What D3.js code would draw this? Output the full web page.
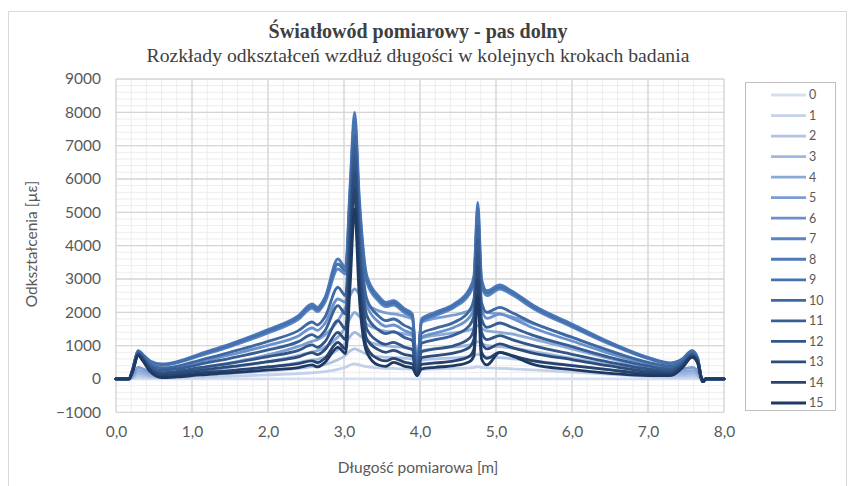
<!DOCTYPE html>
<html><head><meta charset="utf-8">
<script src="https://cdn.jsdelivr.net/npm/d3@7"></script>
<style>body{margin:0;background:#fff}svg{display:block}</style>
</head><body>
<svg id="c" width="848" height="486"></svg>
<script>
// ---------- DATA ----------
const lengths = [0,0.17,0.22,0.29,0.36,0.45,0.6,0.8,1.1,1.5, 2.0,2.4,2.58,2.65,2.75,2.92,3.02,3.08,3.14,3.20, 3.3,3.45,3.55,3.65,3.8,3.9,3.96,4.02,4.2,4.45, 4.65,4.71,4.76,4.81,4.88,5.05,5.2,5.5,6.0,6.5, 7.0,7.3,7.45,7.58,7.65,7.72,7.76,8.0];

const step0  = [0,0,0,0,0,0,0,0,0,0, 0,0,0,0,0,0,0,0,0,0, 0,0,0,0,0,0,0,0,0,0, 0,0,0,0,0,0,0,0,0,0, 0,0,0,0,0,0,0,0];
const step1  = [0,0,20,60,50,35,25,35,50,80, 120,160,185,195,220,290,350,420,450,420, 370,330,320,315,305,290,100,280,300,315, 335,345,370,345,330,320,305,270,205,140, 75,50,50,60,45,0,0,0];
const step2  = [0,0,40,120,100,70,50,70,105,160, 240,320,370,390,440,580,710,840,900,850, 740,670,650,640,620,590,150,560,600,630, 670,700,740,700,660,640,610,540,410,280, 150,100,100,120,90,-10,0,0];
const step3  = [0,0,60,180,150,100,75,100,160,240, 360,490,570,590,660,880,1080,1280,1400,1320, 1150,1030,990,970,940,900,200,850,910,960, 1020,1060,1120,1060,1000,970,930,820,620,420, 230,150,150,180,130,-20,0,0];
const step4  = [0,0,90,260,220,150,110,150,230,350, 520,700,810,850,950,1260,1550,1820,2000,1880, 1650,1480,1430,1400,1350,1300,250,1220,1310,1380, 1470,1520,1600,1520,1440,1400,1350,1190,900,610, 330,220,220,260,190,-30,0,0];
const step5  = [0,0,120,350,300,200,150,200,320,480, 720,980,1130,1180,1320,1750,2150,2500,2700,2550, 2250,2050,1980,1950,1880,1800,300,1700,1820,1920, 2050,2120,2250,2120,2000,1950,1870,1650,1250,850, 450,300,300,350,250,-40,0,0];
const step6  = [0,0,270,790,630,410,300,350,510,720, 1010,1290,1530,1460,1670,2400,2300,4300,6000,4000, 2200,1720,1580,1620,1450,1340,200,1250,1380,1550, 1850,2100,3800,2100,1820,1950,1830,1520,1140,760, 450,340,490,760,590,-80,0,0];
const step7  = [0,0,290,830,690,500,410,480,690,970, 1380,1790,2120,2020,2300,3300,3150,5400,7600,5100, 2900,2350,2170,2220,1980,1830,220,1700,1900,2150, 2550,2900,4900,2800,2500,2700,2540,2100,1560,1040, 610,460,580,830,630,-80,0,0];
const step8  = [0,0,300,850,720,540,450,520,750,1050, 1480,1900,2250,2150,2450,3600,3350,5800,8000,5500, 3100,2500,2300,2350,2100,1950,250,1800,2000,2250, 2700,3100,5300,3000,2650,2820,2650,2200,1650,1100, 650,480,600,850,650,-80,0,0];
const step9  = [0,0,290,840,700,520,430,500,720,1010, 1430,1850,2180,2080,2380,3450,3250,5600,7800,5300, 3000,2420,2230,2280,2040,1880,230,1750,1950,2200, 2620,3000,5100,2900,2580,2760,2600,2150,1600,1070, 630,470,590,840,640,-80,0,0];
const step10 = [0,0,280,800,650,430,330,380,560,800, 1130,1450,1710,1620,1860,2750,2500,5000,7300,4700, 2400,1900,1750,1800,1600,1480,200,1370,1520,1700, 2050,2400,4600,2300,2000,2150,2000,1670,1250,840, 500,380,520,780,600,-80,0,0];
const step11 = [0,0,270,780,620,380,260,300,440,620, 870,1120,1330,1250,1450,2200,1950,4600,7000,4300, 1900,1480,1360,1420,1240,1150,180,1070,1180,1320, 1600,1900,4200,1800,1550,1680,1560,1300,970,650, 390,300,460,740,570,-80,0,0];
const step12 = [0,0,260,760,590,330,190,230,340,470, 670,860,1020,950,1120,1750,1500,4200,6600,3900, 1500,1130,1040,1100,950,880,160,820,900,1000, 1220,1500,3800,1400,1180,1300,1190,990,740,500, 300,240,420,710,550,-80,0,0];
const step13 = [0,0,250,740,570,290,140,170,260,370, 520,660,790,730,880,1400,1180,3800,6200,3500, 1200,880,800,860,730,680,140,640,700,780, 950,1200,3400,1100,900,1050,950,770,580,390, 230,190,390,690,530,-80,0,0];
const step14 = [0,0,240,720,540,250,90,110,180,250, 360,460,540,490,620,1100,900,3300,5700,3000, 950,600,540,620,500,450,110,440,480,540, 680,900,3000,800,620,800,710,540,400,270, 160,140,360,670,510,-80,0,0];
const step15 = [0,0,230,700,520,220,40,60,120,180, 270,340,420,360,500,950,760,2800,5100,2500, 800,420,380,500,380,330,100,300,350,400, 520,700,2500,600,420,800,700,430,280,170, 100,100,330,650,500,-80,0,0];

const seriesLabels = ["0","1","2","3","4","5","6","7","8","9","10","11","12","13","14","15"];
const seriesValues = [step0,step1,step2,step3,step4,step5,step6,step7,step8,step9,step10,step11,step12,step13,step14,step15];
const xTickValues = [0,1,2,3,4,5,6,7,8];
const yTickValues = [-1000,0,1000,2000,3000,4000,5000,6000,7000,8000,9000];

const titleText = "Światłowód pomiarowy - pas dolny";
const subtitleText = "Rozkłady odkształceń wzdłuż długości w kolejnych krokach badania";
const yTitle = "Odkształcenia [µε]";
const xTitle = "Długość pomiarowa [m]";

// ---------- STYLE ----------
const palette = ["#d6dff1","#c3d1eb","#b1c4e5","#9fb7df","#8caad8","#7b9dd2","#6a91cb","#5a85c4","#4d7abb","#4571af","#3e68a2","#385f95","#325688","#2c4d7b","#26446f","#1f3a62"];
const plot = {l:116, r:724, t:79, b:412.3};
const svg = d3.select("#c");

svg.append("rect").attr("x",8.5).attr("y",11.5).attr("width",838).attr("height",480)
  .attr("fill","#fff").attr("stroke","#d9d9d9");

const x = d3.scaleLinear().domain([0,8]).range([plot.l, plot.r]);
const y = d3.scaleLinear().domain([-1000,9000]).range([plot.b, plot.t]);

// grid
const g = svg.append("g");
const minorX = d3.range(0, 8.0001, 0.2);
const minorY = d3.range(-1000, 9000.1, 200);
g.selectAll(".mx").data(minorX).join("line").attr("x1",d=>x(d)).attr("x2",d=>x(d))
  .attr("y1",plot.t).attr("y2",plot.b).attr("stroke","#ededed").attr("stroke-width",1);
g.selectAll(".my").data(minorY).join("line").attr("y1",d=>y(d)).attr("y2",d=>y(d))
  .attr("x1",plot.l).attr("x2",plot.r).attr("stroke","#ededed").attr("stroke-width",1);
g.selectAll(".Mx").data(xTickValues).join("line").attr("x1",d=>x(d)).attr("x2",d=>x(d))
  .attr("y1",plot.t).attr("y2",plot.b).attr("stroke","#d6d6d6").attr("stroke-width",1.3);
g.selectAll(".My").data(yTickValues).join("line").attr("y1",d=>y(d)).attr("y2",d=>y(d))
  .attr("x1",plot.l).attr("x2",plot.r).attr("stroke","#d6d6d6").attr("stroke-width",1.3);

// axes
const axFont = "Lato, 'Open Sans', sans-serif";
const yAx = svg.append("g").attr("transform",`translate(${plot.l},0)`)
  .call(d3.axisLeft(y).tickValues(yTickValues).tickSize(0).tickPadding(15).tickFormat(d3.format("d")));
yAx.select(".domain").remove();
yAx.selectAll("text").attr("font-family",axFont).attr("font-size",15.5).attr("fill","#595959");

const xAx = svg.append("g").attr("transform",`translate(0,${plot.b})`)
  .call(d3.axisBottom(x).tickValues(xTickValues).tickSize(0).tickPadding(14)
    .tickFormat(d => d3.format(".1f")(d).replace(".", ",")));
xAx.select(".domain").remove();
xAx.selectAll("text").attr("font-family",axFont).attr("font-size",15.5).attr("fill","#595959");

// series
const line = d3.line().x((d,i)=>x(lengths[i])).y(d=>y(d)).curve(d3.curveMonotoneX);
svg.append("g").selectAll("path").data(seriesValues).join("path")
  .attr("d", line).attr("fill","none")
  .attr("stroke",(d,i)=>palette[i]).attr("stroke-width",2.8)
  .attr("stroke-linejoin","round").attr("stroke-linecap","round");

// titles
function fit(sel, target){
  const n = sel.node(); const len = n.getComputedTextLength();
  const fs = parseFloat(sel.attr("font-size"));
  sel.attr("font-size", (fs*target/len).toFixed(2));
}
const serif = "'Liberation Serif', 'DejaVu Serif', serif";
const t1 = svg.append("text").attr("x",418).attr("y",38).attr("text-anchor","middle")
  .attr("font-family",serif).attr("font-weight","bold").attr("font-size",19).attr("fill","#404040").text(titleText);
fit(t1, 299);
const t2 = svg.append("text").attr("x",418).attr("y",62).attr("text-anchor","middle")
  .attr("font-family",serif).attr("font-size",19).attr("fill","#404040").text(subtitleText);
fit(t2, 543);

svg.append("text").attr("transform","translate(37,244) rotate(-90)").attr("text-anchor","middle")
  .attr("font-family",axFont).attr("font-size",15.5).attr("fill","#595959").text(yTitle);
svg.append("text").attr("x",418).attr("y",473).attr("text-anchor","middle")
  .attr("font-family",axFont).attr("font-size",15.5).attr("fill","#595959").text(xTitle);

// legend
const lg = svg.append("g");
lg.append("rect").attr("x",745.5).attr("y",82.5).attr("width",90).attr("height",328)
  .attr("fill","#fff").attr("stroke","#bfbfbf");
const ly = d3.scalePoint().domain(seriesLabels).range([95, 403]);
const items = lg.selectAll("g.it").data(seriesLabels).join("g").attr("transform",d=>`translate(0,${ly(d)})`);
items.append("line").attr("x1",771).attr("x2",806).attr("y1",0).attr("y2",0)
  .attr("stroke",(d,i)=>palette[i]).attr("stroke-width",2.8);
items.append("text").attr("x",809).attr("y",0).attr("dy","0.35em")
  .attr("font-family",axFont).attr("font-size",12.5).attr("fill","#595959").text(d=>d);
</script>
</body></html>
